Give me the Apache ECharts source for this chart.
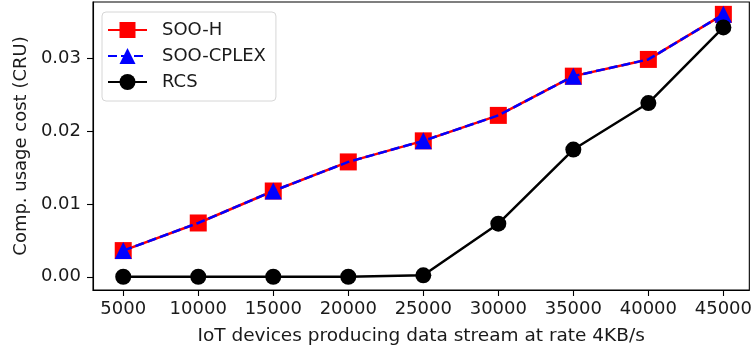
<!DOCTYPE html>
<html>
<head>
<meta charset="utf-8">
<script src="https://cdn.jsdelivr.net/npm/echarts@6/dist/echarts.min.js"></script>
<style>
  html, body { margin: 0; padding: 0; background: #fff; }
  #chart { width: 755px; height: 353px; }
</style>
</head>
<body>
<div id="chart"></div>
<script>
// Number of IoT devices (x values)
const devices = [5000, 10000, 15000, 20000, 25000, 30000, 35000, 40000, 45000];
// Computation usage cost per scheme (CRU)
const sooH     = [0.0036, 0.0074, 0.0118, 0.0158, 0.0187, 0.0222, 0.0276, 0.0299, 0.0361];
const sooCplex = [0.0036, 0.0074, 0.0118, 0.0158, 0.0187, 0.0222, 0.0276, 0.0299, 0.0361];
const rcs      = [0.0000, 0.0000, 0.0000, 0.0000, 0.0002, 0.0073, 0.0175, 0.0239, 0.0343];
// Tick labels
const xTicks = [5000, 10000, 15000, 20000, 25000, 30000, 35000, 40000, 45000];
const yTicks = [0, 0.01, 0.02, 0.03];

const font = 'DejaVu Sans';
const fontSize = 18;
const textColor = '#1a1a1a';

const pairs = (ys) => devices.map((x, i) => [x, ys[i]]);

// CPLEX markers are placed on every other point
const cplexData = devices.map((x, i) => (
  i % 2 === 0 ? { value: [x, sooCplex[i]] } : { value: [x, sooCplex[i]], symbol: 'none' }
));

const chart = echarts.init(document.getElementById('chart'), null, { renderer: 'canvas' });
chart.setOption({
  animation: false,
  backgroundColor: '#fff',
  grid: {
    left: 93, right: 4, top: 2, bottom: 63,
    show: true, borderColor: '#000', borderWidth: 1.1, backgroundColor: 'transparent'
  },
  legend: {
    orient: 'vertical',
    left: 102, top: 12,
    itemWidth: 39, itemHeight: 20, itemGap: 8,
    padding: [9, 10, 10, 5],
    backgroundColor: 'rgba(255,255,255,0.85)',
    borderColor: '#d6d6d6', borderWidth: 1, borderRadius: 4,
    textStyle: { fontFamily: font, fontSize: fontSize, color: textColor, padding: [0, 0, 0, 10] },
    data: ['SOO-H', 'SOO-CPLEX', 'RCS']
  },
  xAxis: {
    type: 'value',
    min: 2985, max: 46730,
    name: 'IoT devices producing data stream at rate 4KB/s',
    nameLocation: 'middle', nameGap: 37,
    nameTextStyle: { fontFamily: font, fontSize: 18.5, color: textColor },
    axisLine: { show: true, onZero: false, lineStyle: { color: '#000', width: 1.1 } },
    axisTick: { show: true, customValues: xTicks, length: 6, lineStyle: { color: '#000', width: 1.1 } },
    axisLabel: {
      customValues: xTicks, margin: 10, fontFamily: font, fontSize: fontSize, color: textColor,
      formatter: (v) => String(v)
    },
    splitLine: { show: false }
  },
  yAxis: {
    type: 'value',
    min: -0.00182, max: 0.0378,
    name: 'Comp. usage cost (CRU)',
    nameLocation: 'middle', nameGap: 63,
    nameTextStyle: { fontFamily: font, fontSize: fontSize, color: textColor },
    axisLine: { show: true, onZero: false, lineStyle: { color: '#000', width: 1.1 } },
    axisTick: { show: true, customValues: yTicks, length: 6, lineStyle: { color: '#000', width: 1.1 } },
    axisLabel: {
      customValues: yTicks, margin: 12, fontFamily: font, fontSize: fontSize, color: textColor,
      formatter: (v) => v.toFixed(2)
    },
    splitLine: { show: false }
  },
  series: [
    {
      name: 'SOO-H', type: 'line', z: 2,
      data: pairs(sooH),
      symbol: 'rect', symbolSize: 17,
      lineStyle: { color: '#ff0000', width: 2.5 },
      itemStyle: { color: '#ff0000' }
    },
    {
      name: 'SOO-CPLEX', type: 'line', z: 3,
      data: cplexData,
      symbol: 'triangle', symbolSize: 17,
      lineStyle: { color: '#0000ff', width: 2.5, type: [9, 4] },
      itemStyle: { color: '#0000ff' }
    },
    {
      name: 'RCS', type: 'line', z: 4,
      data: pairs(rcs),
      symbol: 'circle', symbolSize: 16,
      lineStyle: { color: '#000000', width: 2.5 },
      itemStyle: { color: '#000000' }
    }
  ]
});
</script>
</body>
</html>
